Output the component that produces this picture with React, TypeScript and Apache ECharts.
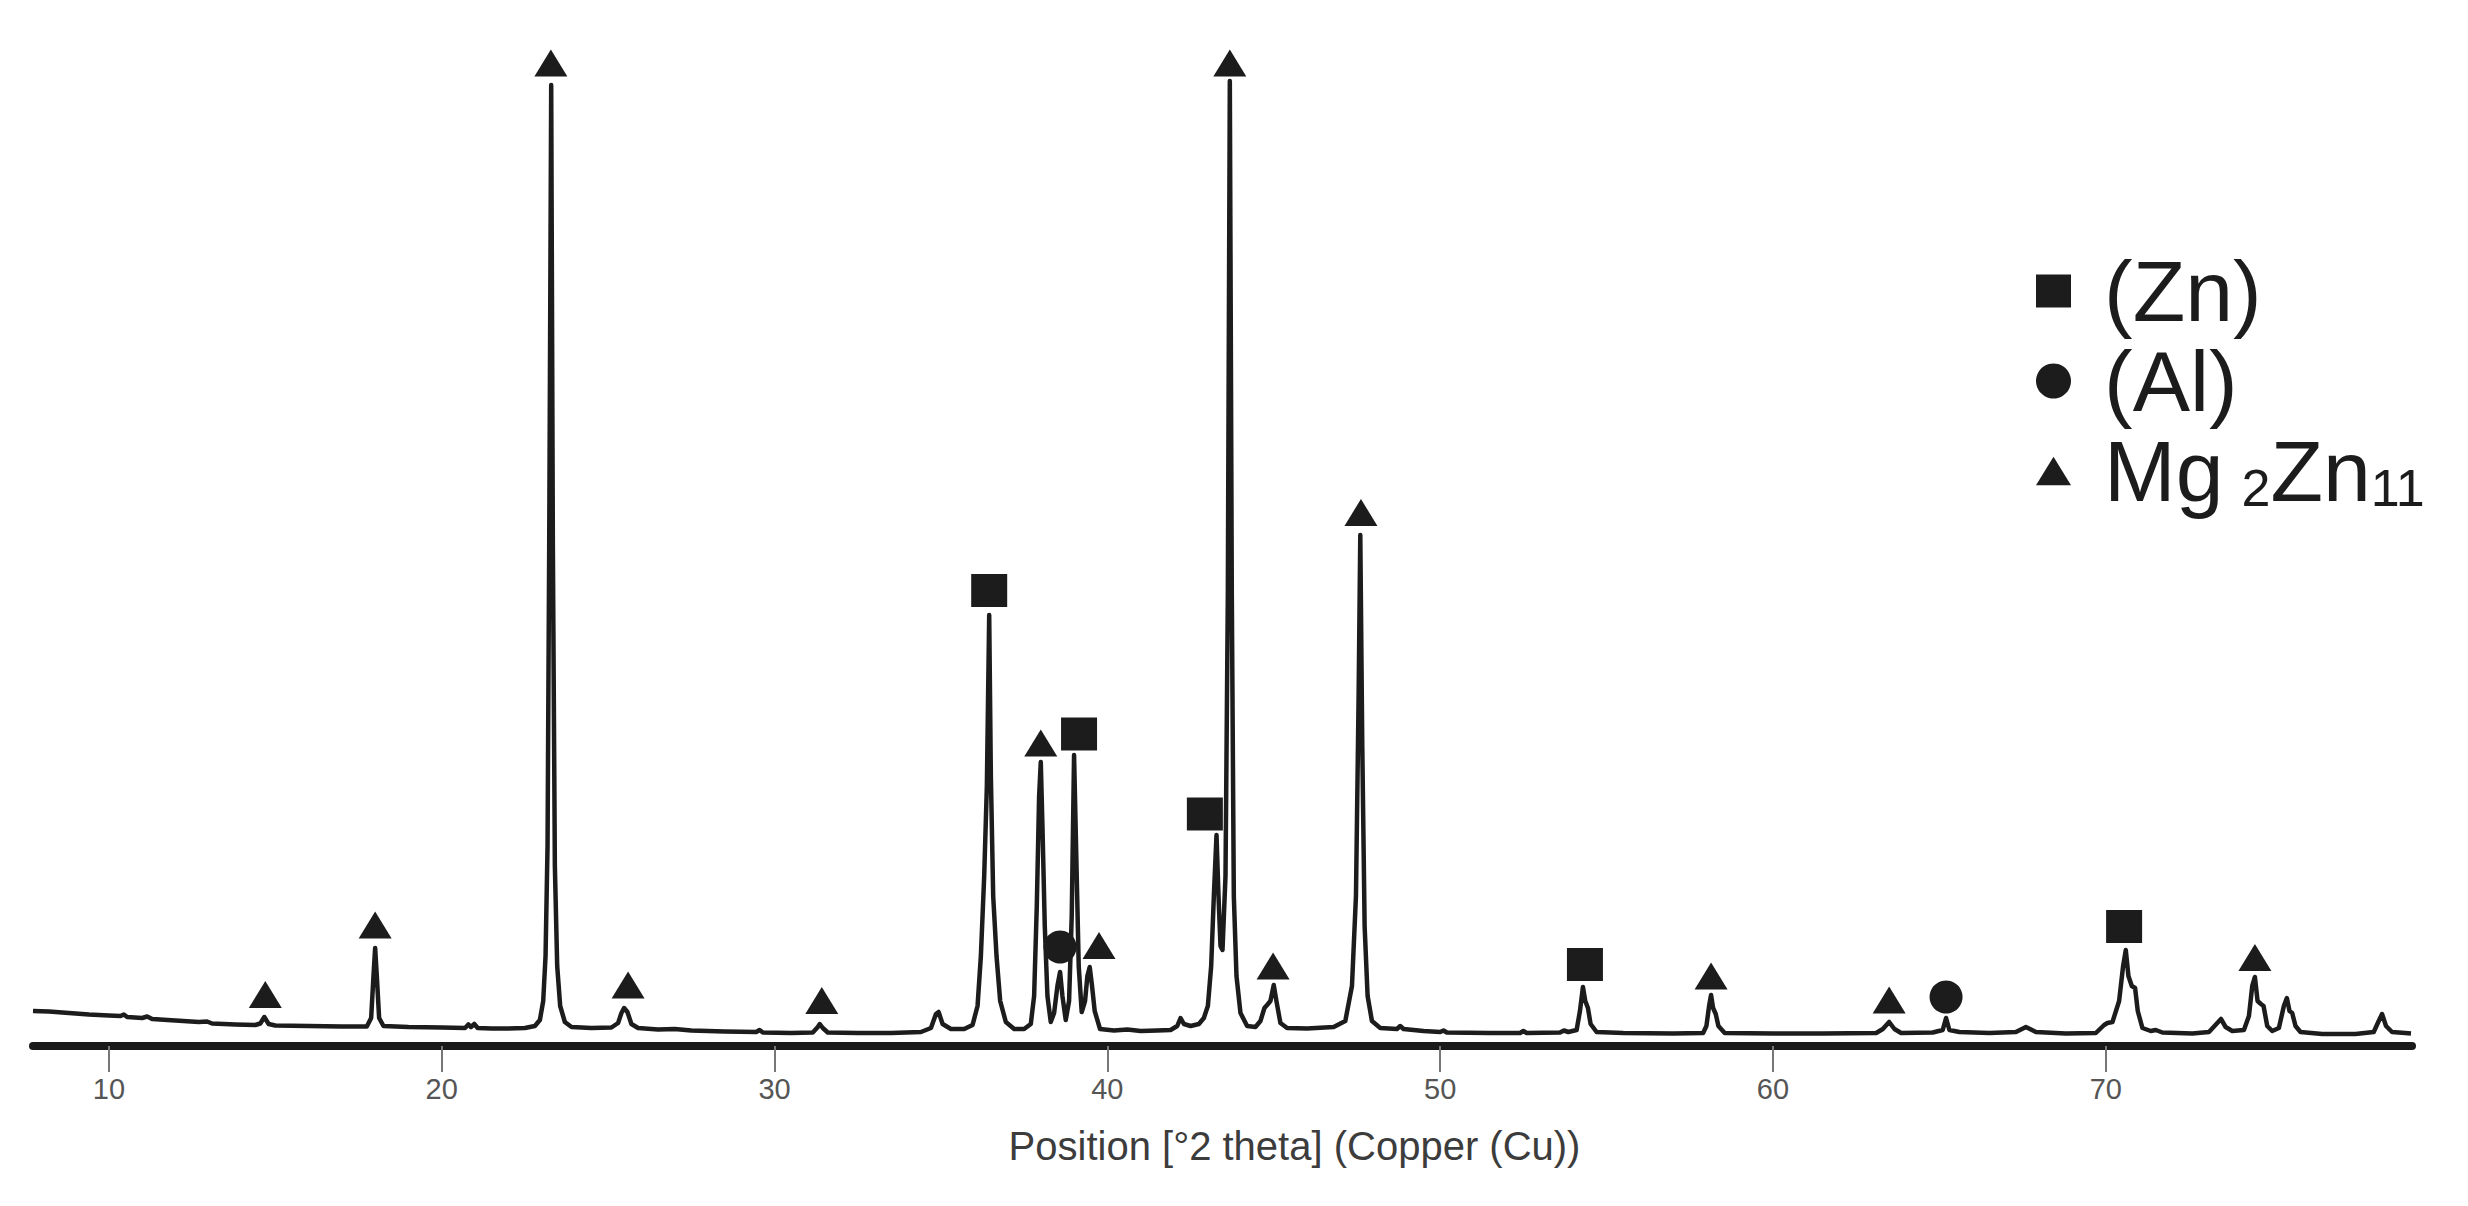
import React, { useEffect, useRef } from "react";
import * as echarts from "echarts";

// ---- tick labels & titles ----
const xTicks = [10, 20, 30, 40, 50, 60, 70];
const axisTitle = "Position [°2 theta] (Copper (Cu))";
const phaseNames = ["(Zn)", "(Al)", "Mg2Zn11"];

// ---- diffraction scan, [2θ, counts] ----
const scanLow: [number, number][] = [
  [7.72, 350], [8.2, 345], [8.8, 330], [9.4, 315], [10.0, 305], [10.35, 300], [10.45, 315], [10.55, 290],
  [11.0, 280], [11.15, 295], [11.3, 270], [12.0, 255], [12.7, 240], [12.95, 245], [13.1, 225], [13.8, 215],
  [14.4, 210], [14.55, 225], [14.67, 290], [14.8, 220], [15.0, 205], [16.0, 200], [17.0, 195], [17.75, 195],
  [17.88, 280], [17.95, 700], [18.0, 980], [18.05, 700], [18.12, 280], [18.25, 200], [19.0, 190], [20.0, 185],
  [20.7, 180], [20.8, 215], [20.88, 190], [20.98, 220], [21.08, 180], [21.5, 175], [22.0, 175], [22.5, 180],
  [22.8, 200], [22.95, 260], [23.05, 450], [23.12, 900], [23.18, 2000], [23.23, 5000], [23.29, 9610],
  [23.34, 5000], [23.4, 1800], [23.47, 800], [23.56, 400], [23.7, 240], [23.9, 190], [24.5, 180], [25.1, 185],
  [25.3, 230], [25.4, 330], [25.48, 380], [25.58, 340], [25.7, 220], [25.9, 180], [26.5, 165], [27.0, 170],
  [27.5, 155], [28.5, 145], [29.45, 140], [29.55, 160], [29.65, 135], [30.5, 130],
];
const scanMid: [number, number][] = [
  [31.15, 135], [31.3, 190], [31.36, 220], [31.45, 180], [31.6, 135], [32.5, 130], [33.5, 130], [34.4, 140],
  [34.7, 180], [34.85, 320], [34.93, 340], [35.05, 220], [35.3, 170], [35.7, 170], [35.95, 210], [36.1, 400],
  [36.2, 900], [36.3, 1700], [36.38, 2600], [36.45, 4310], [36.5, 2700], [36.57, 1500], [36.67, 900],
  [36.78, 450], [36.95, 240], [37.2, 170], [37.5, 170], [37.7, 220], [37.8, 500], [37.88, 1400], [37.95, 2500],
  [38.0, 2840], [38.05, 2200], [38.12, 1200], [38.2, 500], [38.3, 240], [38.4, 330], [38.5, 600], [38.58, 740],
  [38.65, 500], [38.75, 260], [38.85, 450], [38.93, 1300], [39.0, 2910], [39.06, 2000], [39.14, 800],
  [39.23, 340], [39.33, 450], [39.4, 700], [39.47, 790], [39.54, 600], [39.62, 350], [39.78, 170], [40.2, 155],
  [40.6, 165], [41.0, 150], [41.5, 155], [41.9, 160], [42.1, 200], [42.2, 280], [42.3, 220], [42.5, 200],
  [42.75, 220], [42.9, 280], [43.02, 400], [43.12, 800], [43.2, 1500], [43.28, 2110], [43.34, 1500],
  [43.4, 1000], [43.46, 960], [43.55, 1700], [43.62, 4500], [43.68, 9650], [43.74, 4500], [43.8, 1500],
  [43.88, 700], [44.0, 330], [44.2, 200], [44.45, 190], [44.6, 250], [44.72, 380], [44.8, 410], [44.9, 450],
  [45.0, 610], [45.08, 450], [45.2, 230], [45.4, 180], [46.0, 175], [46.8, 190], [47.15, 250], [47.35, 600],
  [47.47, 1500], [47.55, 3500], [47.6, 5110], [47.66, 3000], [47.73, 1200], [47.82, 500], [47.95, 250],
  [48.2, 180], [48.7, 170], [48.8, 200], [48.9, 170], [49.5, 150], [50.0, 140],
];
const scanHigh: [number, number][] = [
  [50.1, 155], [50.2, 135], [51.5, 130], [52.4, 130], [52.5, 150], [52.6, 130], [53.6, 135], [53.72, 155],
  [53.85, 140], [54.1, 160], [54.2, 350], [54.29, 590], [54.36, 450], [54.44, 380], [54.52, 220], [54.7, 140],
  [55.5, 130], [57.0, 125], [57.9, 130], [58.0, 200], [58.08, 400], [58.14, 510], [58.2, 380], [58.28, 320],
  [58.36, 200], [58.55, 130], [60.0, 125], [61.5, 125], [63.1, 130], [63.3, 170], [63.49, 240], [63.65, 170],
  [63.85, 130], [64.8, 135], [65.1, 160], [65.2, 280], [65.3, 160], [65.6, 140], [66.5, 130], [67.3, 140],
  [67.6, 190], [67.9, 140], [68.8, 125], [69.7, 130], [69.95, 210], [70.05, 230], [70.2, 240], [70.4, 450],
  [70.52, 800], [70.6, 960], [70.68, 700], [70.78, 600], [70.88, 580], [70.96, 350], [71.1, 180], [71.35, 150],
  [71.5, 160], [71.7, 135], [72.6, 125], [73.1, 140], [73.35, 230], [73.46, 270], [73.6, 190], [73.8, 150],
  [74.15, 160], [74.3, 300], [74.4, 600], [74.48, 690], [74.56, 450], [74.66, 420], [74.74, 400], [74.85, 200],
  [75.0, 150], [75.2, 180], [75.35, 400], [75.44, 480], [75.52, 350], [75.6, 330], [75.7, 200], [75.85, 140],
  [76.5, 120], [77.5, 120], [78.05, 140], [78.2, 250], [78.3, 320], [78.42, 200], [78.6, 140], [79.0, 130],
  [79.17, 125],
];

// ---- phase marker positions [2θ, counts] ----
const znPeaks: [number, number][] = [
  [36.45, 4555], [39.15, 3120], [42.93, 2320], [54.35, 815], [70.55, 1195],
];
const alPeaks: [number, number][] = [
  [38.58, 990], [65.2, 490],
];
const mgZnPeaks: [number, number][] = [
  [14.7, 515], [18.0, 1210], [23.28, 9830], [25.6, 610], [31.42, 455], [38.0, 3030], [39.75, 1005],
  [43.68, 9830], [44.98, 800], [47.62, 5335], [58.14, 700], [63.49, 460], [74.48, 885],
];

const FONT = "'Liberation Sans', Arial, Helvetica, sans-serif";
const INK = "#1c1c1c";

export default function App() {
  const ref = useRef<HTMLDivElement>(null);

  useEffect(() => {
    if (!ref.current) return;
    const chart = echarts.init(ref.current, null, { renderer: "svg" });
    const scan = [...scanLow, ...scanMid, ...scanHigh];

    chart.setOption({
      animation: false,
      backgroundColor: "#ffffff",
      grid: { left: 33, right: 56, top: 46, bottom: 160, containLabel: false },
      legend: {
        orient: "vertical",
        left: 2036,
        top: 248,
        padding: 0,
        itemGap: 4,
        itemWidth: 35,
        itemHeight: 91,
        selectedMode: false,
        data: [
          { name: phaseNames[0], icon: "path://M0,0L35,0L35,33L0,33Z" },
          { name: phaseNames[1], icon: "circle" },
          { name: phaseNames[2], icon: "path://M0,26L16,0L32,26Z" },
        ],
        formatter: (name: string) =>
          name === "Mg2Zn11"
            ? "{g| }{n|Mg}{s2|2}{n|Zn}{s|11}"
            : `{g| }{n|${name}}`,
        textStyle: {
          color: INK,
          fontFamily: FONT,
          rich: {
            g: { width: 28, fontSize: 12 },
            n: { fontSize: 86, lineHeight: 86, color: INK, fontFamily: FONT },
            s: { fontSize: 52, lineHeight: 22, verticalAlign: "bottom", color: INK, fontFamily: FONT },
            s2: {
              fontSize: 52, lineHeight: 22, verticalAlign: "bottom", color: INK, fontFamily: FONT,
              padding: [0, 0, 0, 18],
            },
          },
        },
      },
      xAxis: {
        type: "value",
        min: 7.72,
        max: 79.2,
        position: "bottom",
        name: axisTitle,
        nameLocation: "middle",
        nameGap: 80,
        nameTextStyle: {
          fontSize: 40,
          color: "#3c3c3c",
          fontFamily: FONT,
          padding: [0, 0, 0, 144],
        },
        axisLine: { show: true, onZero: false, lineStyle: { color: "#1a1a1a", width: 8 } },
        axisTick: {
          show: true,
          customValues: xTicks,
          length: 26,
          lineStyle: { color: "#777777", width: 2 },
        },
        axisLabel: {
          show: true,
          customValues: xTicks,
          fontSize: 29,
          color: "#555555",
          fontFamily: FONT,
          margin: 28,
        },
        splitLine: { show: false },
      },
      yAxis: {
        type: "value",
        min: 0,
        max: 10000,
        show: false,
        splitLine: { show: false },
      },
      series: [
        {
          type: "line",
          name: "scan",
          data: scan,
          showSymbol: false,
          symbol: "none",
          smooth: false,
          lineStyle: { color: INK, width: 4.5, join: "round" },
          z: 2,
        },
        {
          type: "scatter",
          name: phaseNames[0],
          data: znPeaks,
          symbol: "rect",
          symbolSize: [36, 33],
          itemStyle: { color: INK, opacity: 1 },
          clip: false,
          z: 3,
        },
        {
          type: "scatter",
          name: phaseNames[1],
          data: alPeaks,
          symbol: "circle",
          symbolSize: 33,
          itemStyle: { color: INK, opacity: 1 },
          clip: false,
          z: 3,
        },
        {
          type: "scatter",
          name: phaseNames[2],
          data: mgZnPeaks,
          symbol: "triangle",
          symbolSize: [33, 27],
          itemStyle: { color: INK, opacity: 1 },
          clip: false,
          z: 3,
        },
      ],
    });

    return () => chart.dispose();
  }, []);

  return (
    <div
      ref={ref}
      style={{ position: "fixed", left: 0, top: 0, width: 2468, height: 1206, background: "#fff" }}
    />
  );
}
